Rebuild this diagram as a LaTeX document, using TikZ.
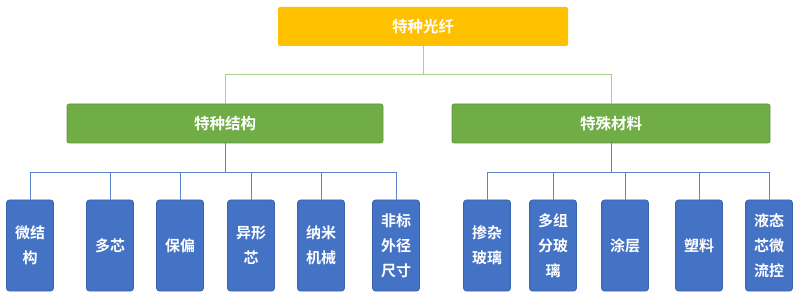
\documentclass[tikz,border=0pt]{standalone}
\usepackage{fontspec}
\setmainfont{Noto Sans CJK SC}[BoldFont={Noto Sans CJK SC Bold}]
\usetikzlibrary{positioning}

\definecolor{topfill}{HTML}{FFC000}
\definecolor{midfill}{HTML}{70AD47}
\definecolor{midline}{HTML}{A9D18E}
\definecolor{leaffill}{HTML}{4472C4}
\definecolor{leafedge}{HTML}{3A62AC}
\definecolor{leafline}{HTML}{5B84CF}

\tikzset{
  rootbox/.style={fill=topfill, rounded corners=2pt, text=white, font=\bfseries\fontsize{15.5}{18}\selectfont,
    minimum width=290pt, minimum height=39pt, inner sep=0pt},
  groupbox/.style={fill=midfill, draw=midfill!85!black, line width=0.6pt, rounded corners=2pt, text=white,
    font=\bfseries\fontsize{15.5}{18}\selectfont, minimum height=39pt, inner sep=0pt},
  leafbox/.style={fill=leaffill, draw=leafedge, line width=0.8pt, rounded corners=3pt, text=white,
    font=\bfseries\fontsize{15}{25}\selectfont, align=center,
    minimum width=47pt, minimum height=91pt, inner sep=0pt},
  greenlink/.style={draw=midline, line width=1pt},
  bluelink/.style={draw=leafline, line width=1pt}
}

\begin{document}
\begin{tikzpicture}[x=1pt, y=-1pt]
    \useasboundingbox (0,0) rectangle (800,299);

    % root and the two groups
    \node[rootbox] (fiber) at (423,26.5) {特种光纤};
    \node[groupbox, minimum width=316pt] (struct) at (225,123.5) {特种结构};
    \node[groupbox, minimum width=318pt] (mater) at (611,123.5) {特殊材料};

    % leaves of the structure group
    \node[leafbox] (micro) at (30,245.5) {微结\\构};
    \node[leafbox] (multi) at (110,245.5) {多芯};
    \node[leafbox] (polar) at (180,245.5) {保偏};
    \node[leafbox] (shape) at (251,245.5) {异形\\芯};
    \node[leafbox] (nano) at (321,245.5) {纳米\\机械};
    \node[leafbox] (odd) at (396,245.5) {非标\\外径\\尺寸};

    % leaves of the material group
    \node[leafbox] (doped) at (487,245.5) {掺杂\\玻璃};
    \node[leafbox] (compo) at (553,245.5) {多组\\分玻\\璃};
    \node[leafbox] (coat) at (625,245.5) {涂层};
    \node[leafbox] (plast) at (699,245.5) {塑料};
    \node[leafbox] (fluid) at (769,245.5) {液态\\芯微\\流控};

    % connectors
    \foreach \g in {struct, mater}
        \draw[greenlink] (fiber.south) -- ++(0,28) -| (\g.north);
    \foreach \l in {micro, multi, polar, shape, nano, odd}
        \draw[bluelink] (struct.south) -- ++(0,29) -| (\l.north);
    \foreach \l in {doped, compo, coat, plast, fluid}
        \draw[bluelink] (mater.south) -- ++(0,29) -| (\l.north);
\end{tikzpicture}
\end{document}
